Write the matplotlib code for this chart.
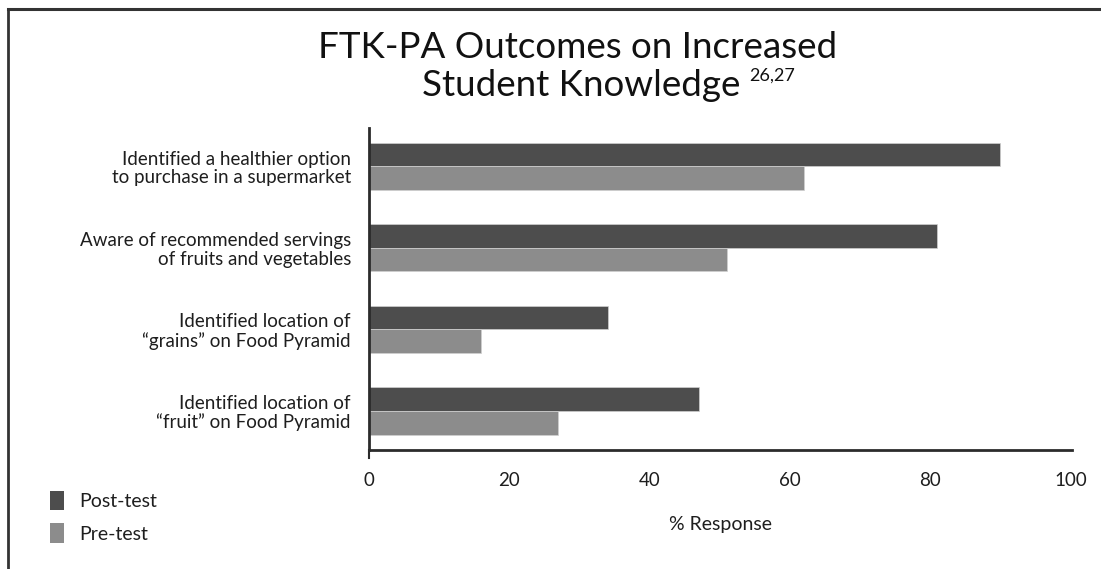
import matplotlib
matplotlib.use("Agg")
import matplotlib.pyplot as plt
from matplotlib.lines import Line2D
from matplotlib.patches import Patch

plt.rcParams["font.family"] = ["Lato", "DejaVu Sans"]

# data, top to bottom
categories = [
    "Identified a healthier option\nto purchase in a supermarket",
    "Aware of recommended servings\nof fruits and vegetables",
    "Identified location of\n\u201cgrains\u201d on Food Pyramid",
    "Identified location of\n\u201cfruit\u201d on Food Pyramid",
]
post_test = [90, 81, 34, 47]
pre_test  = [62, 51, 16, 27]
x_ticks   = [0, 20, 40, 60, 80, 100]

POST_COLOR = "#4d4d4d"
PRE_COLOR  = "#8c8c8c"
AX_COLOR   = "#2b2b2b"
TXT        = "#1e1e1e"

W, H = 1101, 569
fig = plt.figure(figsize=(W / 100, H / 100), dpi=100)

# axes placed by pixel box: left 369, right 1072, top 128, bottom 450
ax = fig.add_axes([369 / W, 1 - 450 / H, (1072 - 369) / W, (450 - 128) / H])

bh = 0.29
ys = range(len(categories))
ax.barh([y - bh / 2 for y in ys], post_test, height=bh, color=POST_COLOR,
        edgecolor="#d0d0d0", linewidth=0.5)
ax.barh([y + bh / 2 for y in ys], pre_test, height=bh, color=PRE_COLOR,
        edgecolor="#d0d0d0", linewidth=0.5)

ax.set_xlim(0, 100.2)
ax.set_ylim(len(categories) - 0.52, -0.47)

ax.set_yticks(list(ys))
ax.set_yticklabels(categories, fontsize=13.5, color=TXT, linespacing=1.1)
ax.set_xticks(x_ticks)
ax.set_xticklabels([str(t) for t in x_ticks], fontsize=13.5, color=TXT)
ax.tick_params(axis="y", length=0, pad=13)
ax.tick_params(axis="x", length=0, pad=16)

for side in ("top", "right"):
    ax.spines[side].set_visible(False)
for side in ("left", "bottom"):
    ax.spines[side].set_color(AX_COLOR)
    ax.spines[side].set_linewidth(2)
# small stub of the y axis below the x axis
ax.plot([0, 0], [0, -0.025], transform=ax.transAxes, color=AX_COLOR,
        lw=1.5, clip_on=False)

ax.set_xlabel("% Response", fontsize=14, color=TXT, labelpad=19)

# title
fig.text(578 / W, 1 - 47 / H, "FTK-PA Outcomes on Increased", ha="center",
         va="center", fontsize=26.5, color="#111111")
fig.text(581 / W, 1 - 85 / H, "Student Knowledge", ha="center",
         va="center", fontsize=26.5, color="#111111")
fig.text(749 / W, 1 - 76 / H, "26,27", ha="left", va="center",
         fontsize=13, color="#111111")

# legend
handles = [Patch(facecolor=POST_COLOR, edgecolor="none", label="Post-test"),
           Patch(facecolor=PRE_COLOR, edgecolor="none", label="Pre-test")]
fig.legend(handles=handles, loc="upper left",
           bbox_to_anchor=(32 / W, 1 - 473 / H), frameon=False,
           fontsize=14, handlelength=0.75, handleheight=1.2,
           handletextpad=0.8, labelspacing=0.65, labelcolor=TXT)

# frame lines at top and left of the figure
fig.add_artist(Line2D([8 / W, 1], [1 - 9 / H, 1 - 9 / H], color="#333333", lw=2.2))
fig.add_artist(Line2D([8 / W, 8 / W], [0, 1 - 9 / H], color="#333333", lw=2.0))

fig.savefig("out.png", dpi=100, facecolor="white")
